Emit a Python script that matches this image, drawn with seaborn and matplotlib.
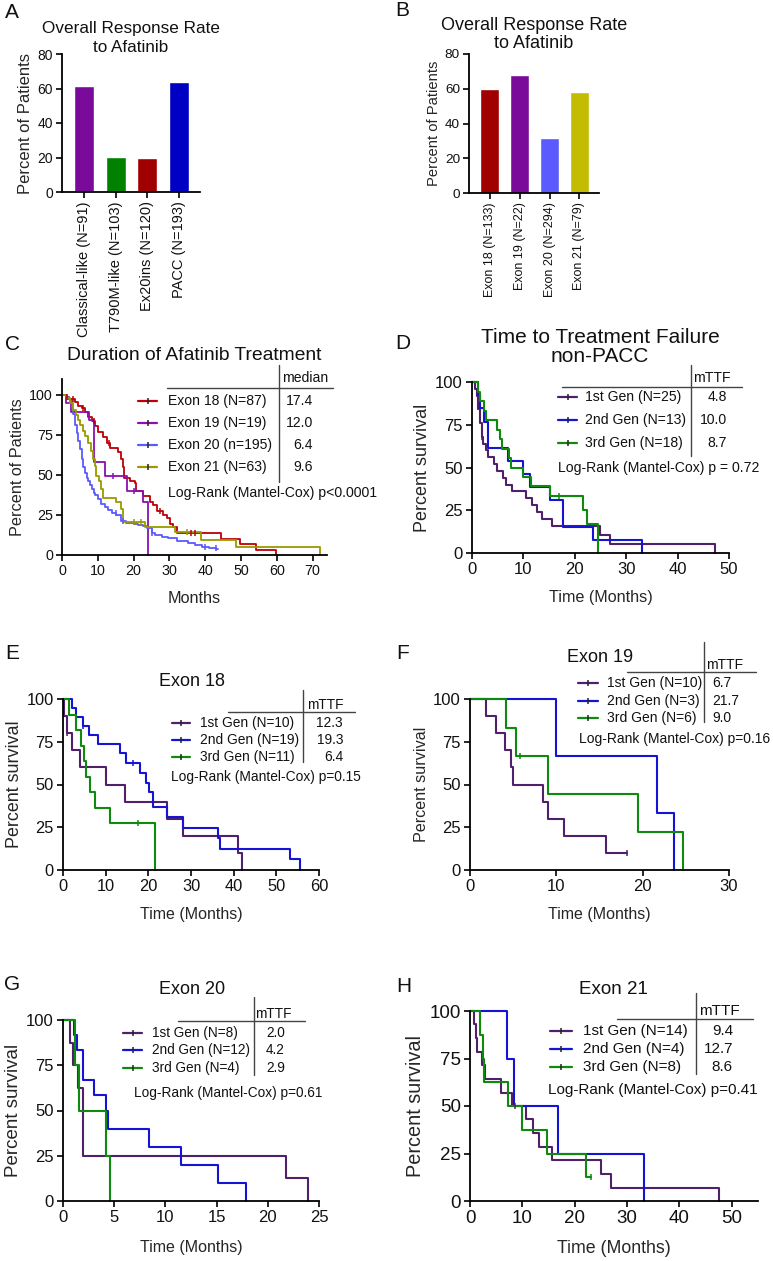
import numpy as np
import pandas as pd
import matplotlib
matplotlib.use('Agg')
import matplotlib.pyplot as plt
from matplotlib.lines import Line2D
import seaborn as sns

# ---- bar panels ----
a_groups = ['Classical-like (N=91)', 'T790M-like (N=103)', 'Ex20ins (N=120)', 'PACC (N=193)']
a_pct = [61.2, 20.2, 19.7, 63.5]
a_colors = ['#7a0a99', '#008200', '#a00000', '#0000c4']

b_groups = ['Exon 18 (N=133)', 'Exon 19 (N=22)', 'Exon 20 (N=294)', 'Exon 21 (N=79)']
b_pct = [59.8, 67.8, 31.4, 58.0]
b_colors = ['#a00000', '#7a0a99', '#5a5aff', '#c4bc00']

# ---- panel C: duration of afatinib treatment ----
c_labels = ['Exon 18 (N=87)', 'Exon 19 (N=19)', 'Exon 20 (n=195)', 'Exon 21 (N=63)']
c_medians = ['17.4', '12.0', '6.4', '9.6']
c_colors = ['#bb0008', '#8a10b0', '#5a5aff', '#9a9a00']
c18_t = [0, 1.0, 2.0, 3.5, 4.5, 5.5, 6.5, 7.3, 8.3, 9.2, 10.1, 11.5, 12.5, 13.4, 15.6, 16.5, 17.1, 17.4,
         19.0, 20.3, 20.8, 22.7, 24.5, 25.4, 26.4, 28.3, 29.2, 30.1, 31.0, 32.0, 44.5, 49.6, 54.3, 59.8]
c18_s = [100, 98.9, 97.7, 95.4, 93.1, 91.9, 89.6, 86.2, 83.9, 80.5, 77.0, 73.6, 70.1, 66.7, 64.4, 59.8, 55.2, 48.3,
         46.0, 44.8, 40.2, 36.8, 33.3, 31.0, 27.6, 25.3, 23.0, 19.5, 17.2, 13.8, 10.3, 6.9, 3.4, 0]
c19_t = [0, 1.0, 2.5, 7.5, 8.8, 12.0, 18.1, 22.7, 24.1]
c19_s = [100, 94.7, 89.5, 84.2, 57.9, 49.1, 39.8, 33.2, 0]
c20_t = [0, 1.2, 1.8, 2.2, 2.7, 3.1, 3.6, 4.1, 4.6, 5.0, 5.5, 6.0, 6.4, 6.9, 7.3, 7.8, 8.3, 8.8, 9.2, 10.0, 11.0,
         12.0, 12.9, 14.0, 15.2, 16.6, 18.0, 20.0, 21.3, 22.5, 23.6, 25.0, 26.0, 28.0, 29.6, 32.0, 35.2, 37.0,
         39.0, 41.0, 43.1, 43.5]
c20_s = [100, 99, 97.5, 96, 92, 88, 81, 76, 71, 66, 60, 55, 51, 48, 46, 43.5, 41, 39, 37.5, 35, 32,
         30, 28, 26.5, 25, 21, 20, 19.5, 19, 18, 16.7, 14, 12.5, 11.5, 10.4, 9, 7.3, 6.2,
         5.2, 4.2, 3.5, 3.5]
c21_t = [0, 1.5, 2.3, 3.2, 3.8, 4.5, 5.0, 5.8, 6.4, 7.3, 8.0, 8.7, 9.2, 9.6, 10.3, 11.0, 11.5, 15.2, 16.6,
         17.1, 23.1, 31.5, 38.9, 48.7, 72.0]
c21_s = [100, 98.4, 95.2, 90.5, 87.3, 84.1, 81.0, 77.8, 74.6, 69.8, 65.1, 60.3, 55.6, 49.2, 46.0, 41.3, 35.6,
         33.3, 28.6, 20.6, 17.5, 14.3, 9.5, 4.8, 0]
c_cens = [[1.5, 3.0, 6.0, 9.0, 13.0, 27.5, 36.0, 37.0], [14.3, 20.0], [15.0, 17.0, 25.0, 40.0, 43.0], [20.0, 22.0, 35.0]]

# ---- generation panels (1st / 2nd / 3rd Gen) ----
gen_colors = ['#50206a', '#1414d2', '#0e8a0e']

d_labels = ['1st Gen (N=25)', '2nd Gen (N=13)', '3rd Gen (N=18)']
d_mttf = ['4.8', '10.0', '8.7']
d1_t = [0, 0.6, 0.9, 1.1, 1.6, 1.9, 2.2, 2.7, 3.2, 4.2, 4.8, 6.1, 6.7, 7.7, 10.6, 11.6, 12.6, 13.6, 14.5, 15.5, 24.9, 26.8, 47.2]
d1_s = [100, 96, 92, 84, 76, 68, 64, 60, 56, 52, 48, 44, 40, 36, 32, 28, 24, 20, 20, 16, 10.5, 5.3, 0]
d2_t = [0, 1.1, 1.6, 2.3, 3.2, 7.1, 10.0, 11.3, 15.1, 17.8, 23.6, 33.0]
d2_s = [100, 92.3, 84.6, 76.9, 61.5, 53.8, 46.2, 38.5, 30.8, 15.4, 7.7, 0]
d3_t = [0, 1.1, 1.6, 2.4, 2.8, 4.9, 5.5, 5.9, 7.2, 7.5, 10.0, 11.5, 15.2, 21.5, 22.3, 24.6]
d3_s = [100, 94.4, 88.9, 83.3, 77.8, 72.2, 66.7, 61.1, 55.6, 50.0, 44.4, 38.9, 33.3, 25.0, 16.7, 0]
d_cens = [[2.0], [], [17.0]]

e_labels = ['1st Gen (N=10)', '2nd Gen (N=19)', '3rd Gen (N=11)']
e_mttf = ['12.3', '19.3', '6.4']
e1_t = [0, 0.3, 0.9, 2.1, 4.05, 10.0, 14.6, 24.3, 28.2, 41.1, 41.9]
e1_s = [100, 90, 80, 70, 60, 50, 40, 30, 20, 10, 0]
e2_t = [0, 2.0, 3.1, 4.7, 6.2, 8.2, 13.3, 14.8, 18.0, 19.5, 20.1, 21.1, 24.3, 28.2, 36.4, 36.8, 53.1, 55.5]
e2_s = [100, 94.7, 89.5, 84.2, 78.9, 73.7, 68.4, 62.5, 56.8, 51.1, 45.4, 37.0, 30.8, 24.6, 18.5, 12.3, 6.2, 0]
e3_t = [0, 1.4, 3.1, 4.3, 5.0, 5.4, 6.3, 7.4, 10.9, 21.5]
e3_s = [100, 90.9, 81.8, 72.7, 63.6, 54.5, 45.5, 36.4, 27.3, 0]
e_cens = [[1.0], [4.7, 16.4], [17.5]]

f_labels = ['1st Gen (N=10)', '2nd Gen (N=3)', '3rd Gen (N=6)']
f_mttf = ['6.7', '21.7', '9.0']
f1_t = [0, 1.8, 3.0, 4.05, 4.7, 5.0, 8.4, 9.0, 10.9, 15.7, 18.2]
f1_s = [100, 90, 80, 70, 60, 50, 40, 30, 20, 10, 10]
f2_t = [0, 10.0, 21.7, 23.6]
f2_s = [100, 66.7, 33.3, 0]
f3_t = [0, 4.2, 5.3, 9.0, 19.5, 24.7]
f3_s = [100, 83.3, 66.7, 44.4, 22.2, 0]
f_cens = [[18.2], [], [5.8]]

g_labels = ['1st Gen (N=8)', '2nd Gen (N=12)', '3rd Gen (N=4)']
g_mttf = ['2.0', '4.2', '2.9']
g1_t = [0, 0.65, 1.0, 1.5, 2.0, 21.75, 23.9]
g1_s = [100, 87.5, 75, 62.5, 25, 12.5, 0]
g2_t = [0, 1.05, 1.4, 2.0, 3.05, 4.2, 4.4, 8.4, 11.5, 15.1, 17.9]
g2_s = [100, 91.7, 83.3, 66.7, 58.3, 50, 40, 30, 20, 10, 0]
g3_t = [0, 1.2, 1.6, 4.2, 4.6]
g3_s = [100, 75, 50, 25, 0]
g_cens = [[], [], []]

h_labels = ['1st Gen (N=14)', '2nd Gen (N=4)', '3rd Gen (N=8)']
h_mttf = ['9.4', '12.7', '8.6']
h1_t = [0, 0.8, 1.15, 1.4, 2.2, 2.9, 5.9, 8.0, 10.7, 12.0, 13.1, 15.6, 25.0, 26.9, 47.5]
h1_s = [100, 92.9, 85.7, 78.6, 71.4, 64.3, 57.1, 50, 42.9, 35.7, 28.6, 21.4, 14.3, 7.1, 0]
h2_t = [0, 7.1, 8.4, 16.9, 33.2]
h2_s = [100, 75, 50, 25, 0]
h3_t = [0, 1.9, 2.4, 2.7, 7.3, 9.9, 14.8, 22.2, 23.2]
h3_s = [100, 87.5, 75, 62.5, 50, 37.5, 25, 12.5, 12.5]
h_cens = [[8.5], [], [23.2]]

W, H = 773, 1261
sns.set_theme(style='ticks')
plt.rcParams['font.family'] = ['Liberation Sans', 'DejaVu Sans']
fig = plt.figure(figsize=(W / 100, H / 100), dpi=100)


def box(l, t, r, b):
    return [l / W, 1 - b / H, (r - l) / W, (b - t) / H]


def ftext(x, y, s, size=9.5, ha='left', va='center', **kw):
    fig.text(x / W, 1 - y / H, s, fontsize=size, ha=ha, va=va, color='#111111', **kw)


def fline(x0, x1, y0, y1, lw=1.0, color='#444444', **kw):
    fig.add_artist(Line2D([x0 / W, x1 / W], [1 - y0 / H, 1 - y1 / H], transform=fig.transFigure,
                          color=color, lw=lw, **kw))


def style(ax, tsize):
    sns.despine(ax=ax)
    for sp in ('left', 'bottom'):
        ax.spines[sp].set_linewidth(1.3)
        ax.spines[sp].set_color('black')
    ax.tick_params(width=1.2, length=4.5, labelsize=tsize, color='black', pad=2, labelcolor='#111111')


def bar_panel(rect, groups, pct, colors, tsize, xsize, ysize):
    ax = fig.add_axes(box(*rect))
    df = pd.DataFrame({'group': groups, 'pct': pct})
    sns.barplot(data=df, x='group', y='pct', hue='group', palette=dict(zip(groups, colors)),
                width=0.63, saturation=1, legend=False, ax=ax)
    ax.set_xlim(-0.7, 3.66)
    ax.set_ylim(0, 80)
    ax.set_yticks(range(0, 81, 20))
    ax.set_xlabel('')
    ax.set_ylabel('Percent of Patients', fontsize=ysize, labelpad=3)
    style(ax, tsize)
    ax.tick_params(axis='x', labelrotation=90, labelsize=xsize)
    return ax


def km_panel(rect, curves, labels, colors, cens, xmax, xstep, ymax, tsize, xlab, xsize, ylab, ysize,
             lw=1.5, xpad=9):
    ax = fig.add_axes(box(*rect))
    rows = []
    for lab, (t, s) in zip(labels, curves):
        rows.append(pd.DataFrame({'t': t, 's': s, 'g': lab}))
    df = pd.concat(rows, ignore_index=True)
    sns.lineplot(data=df, x='t', y='s', hue='g', palette=dict(zip(labels, colors)), drawstyle='steps-post',
                 estimator=None, sort=False, lw=lw, legend=False, ax=ax, clip_on=False)
    for (t, s), cs, col in zip(curves, cens, colors):
        if cs:
            idx = np.searchsorted(t, cs, side='right') - 1
            ax.plot(cs, np.array(s)[idx], ls='none', marker='|', ms=4.5, mew=1.1, color=col)
    ax.set_xlim(0, xmax)
    ax.set_ylim(0, ymax)
    ax.set_xticks(np.arange(0, xmax + 0.01, xstep) if xmax % xstep == 0 else np.arange(0, xmax, xstep))
    ax.set_yticks([0, 25, 50, 75, 100])
    ax.set_xlabel(xlab, fontsize=xsize, labelpad=xpad)
    ax.set_ylabel(ylab, fontsize=ysize, labelpad=3)
    style(ax, tsize)
    return ax


def table(colors, labels, vals, rows_y, sx0, sx1, tx, vx, val_ha, head, head_x, head_y,
          vline, hline, lr_text, lr_x, lr_y, size=9.5):
    fline(vline[0], vline[0], vline[1], vline[2], lw=1.0)
    fline(hline[0], hline[1], hline[2], hline[2], lw=1.0)
    ftext(head_x, head_y, head, size=size, ha='center')
    for col, lab, v, y in zip(colors, labels, vals, rows_y):
        fline(sx0, sx1, y, y, lw=1.6, color=col)
        fig.add_artist(Line2D([(sx0 + sx1) / 2 / W], [1 - y / H], transform=fig.transFigure, ls='none',
                              marker='|', ms=4.5, mew=1.1, color='#222222'))
        ftext(tx, y, lab, size=size)
        ftext(vx, y, v, size=size, ha=val_ha)
    ftext(lr_x, lr_y, lr_text, size=size)


# ---- A and B ----
bar_panel((62, 54, 200, 192), a_groups, a_pct, a_colors, 10, 10.5, 12)
ftext(131, 29, 'Overall Response Rate', size=12.3, ha='center')
ftext(131, 48, 'to Afatinib', size=12.3, ha='center')
bar_panel((469, 54, 599, 193), b_groups, b_pct, b_colors, 9.7, 9, 10.6)
ftext(534, 25, 'Overall Response Rate', size=13, ha='center')
ftext(534, 44, 'to Afatinib', size=13, ha='center')

# ---- C ----
km_panel((62, 379, 327, 555), [(c18_t, c18_s), (c19_t, c19_s), (c20_t, c20_s), (c21_t, c21_s)],
         c_labels, c_colors, c_cens, 74, 10, 110, 10.3, 'Months', 11.7, 'Percent of Patients', 11.7, lw=1.3)
ftext(194, 355, 'Duration of Afatinib Treatment', size=13.9, ha='center')
table(c_colors, c_labels, c_medians, [401, 423, 445, 467], 138, 157, 168, 313, 'right', 'median', 305, 378,
      (279, 365, 482), (167, 333, 388), 'Log-Rank (Mantel-Cox) p<0.0001', 168, 493, size=10.1)

# ---- D ----
km_panel((472, 382, 729, 553), [(d1_t, d1_s), (d2_t, d2_s), (d3_t, d3_s)],
         d_labels, gen_colors, d_cens, 50, 10, 100, 12, 'Time (Months)', 11.6, 'Percent survival', 13)
ftext(600, 338, 'Time to Treatment Failure', size=15, ha='center')
ftext(600, 357, 'non-PACC', size=15, ha='center')
table(gen_colors, d_labels, d_mttf, [397, 420, 443], 558, 577, 585, 727, 'right', 'mTTF', 712, 378,
      (691, 365, 456), (562, 742, 387), 'Log-Rank (Mantel-Cox) p = 0.72', 558, 468, size=10.1)

# ---- E ----
km_panel((63, 699, 319, 870), [(e1_t, e1_s), (e2_t, e2_s), (e3_t, e3_s)],
         e_labels, gen_colors, e_cens, 60, 10, 100, 11.8, 'Time (Months)', 11.5, 'Percent survival', 12.9)
ftext(192, 682, 'Exon 18', size=13, ha='center')
table(gen_colors, e_labels, e_mttf, [723, 740, 757], 172, 190, 200, 343, 'right', 'mTTF', 325, 705,
      (303, 690, 762), (228, 355, 712), 'Log-Rank (Mantel-Cox) p=0.15', 171, 777, size=9.9)

# ---- F ----
km_panel((470, 699, 729, 870), [(f1_t, f1_s), (f2_t, f2_s), (f3_t, f3_s)],
         f_labels, gen_colors, f_cens, 30, 10, 100, 12, 'Time (Months)', 11.5, 'Percent survival', 11.6)
ftext(600, 657, 'Exon 19', size=13, ha='center')
table(gen_colors, f_labels, f_mttf, [683, 701, 718], 578, 598, 607, 712, 'left', 'mTTF', 725, 665,
      (704, 642, 722), (627, 756, 672), 'Log-Rank (Mantel-Cox) p=0.16', 579, 739, size=10)

# ---- G ----
km_panel((63, 1020, 319, 1201), [(g1_t, g1_s), (g2_t, g2_s), (g3_t, g3_s)],
         g_labels, gen_colors, g_cens, 25, 5, 100, 12, 'Time (Months)', 11.5, 'Percent survival', 13.5,
         xpad=11)
ftext(192, 990, 'Exon 20', size=13, ha='center')
table(gen_colors, g_labels, g_mttf, [1033, 1050, 1068], 123, 142, 152, 285, 'right', 'mTTF', 273, 1014,
      (254, 997, 1075), (178, 305, 1021), 'Log-Rank (Mantel-Cox) p=0.61', 134, 1093, size=9.8)

# ---- H ----
km_panel((470, 1011, 758, 1201), [(h1_t, h1_s), (h2_t, h2_s), (h3_t, h3_s)],
         h_labels, gen_colors, h_cens, 55, 10, 100, 13.5, 'Time (Months)', 12.8, 'Percent survival', 14.3)
ftext(613, 990, 'Exon 21', size=13.5, ha='center')
table(gen_colors, h_labels, h_mttf, [1031, 1049, 1067], 550, 572, 583, 733, 'right', 'mTTF', 719, 1011,
      (696, 993, 1074), (617, 753, 1019), 'Log-Rank (Mantel-Cox) p=0.41', 548, 1090, size=11)

# ---- panel letters ----
for letter, x, y in [('A', 12, 13), ('B', 402, 11), ('C', 13, 345), ('D', 403, 344),
                     ('E', 12, 653), ('F', 403, 653), ('G', 12, 985), ('H', 404, 986)]:
    ftext(x, y, letter, size=15, ha='center')

fig.savefig('out.png', dpi=100)
